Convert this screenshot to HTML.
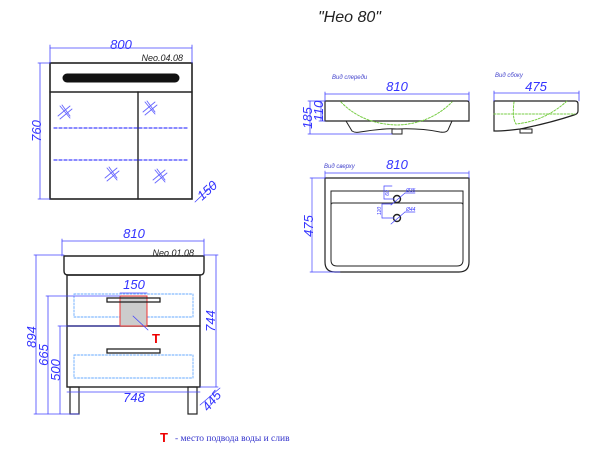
<!DOCTYPE html>
<html><head><meta charset="utf-8"><style>
html,body{margin:0;padding:0;background:#fff;}
svg{display:block;}
text{font-family:"Liberation Sans",sans-serif;}
</style></head><body>
<svg width="600" height="457" viewBox="0 0 600 457" xmlns="http://www.w3.org/2000/svg">
<g fill="none" stroke-linecap="round">
<!-- Title -->
<text x="318" y="22" font-size="16" font-style="italic" fill="#222" stroke="none">"Нео 80"</text>

<!-- Mirror cabinet -->
<rect x="50" y="63" width="142" height="136" stroke="#222" stroke-width="1.6"/>
<line x1="50" y1="92" x2="192" y2="92" stroke="#222" stroke-width="1.4"/>
<line x1="138" y1="92" x2="138" y2="199" stroke="#222" stroke-width="1.4"/>
<line x1="67" y1="78" x2="175" y2="78" stroke="#111" stroke-width="9"/>
<line x1="54" y1="128" x2="189" y2="128" stroke="#44f" stroke-width="1.2" stroke-dasharray="3,2"/>
<line x1="54" y1="160" x2="189" y2="160" stroke="#44f" stroke-width="1.2" stroke-dasharray="3,2"/>
<g stroke="#66f" stroke-width="0.9">
<path d="M58,116 L70,106 M60,119 L72,109 M60,106 L70,118 M62,105 L70,116"/>
<path d="M143,112 L155,102 M145,115 L157,105 M145,102 L155,114 M147,101 L155,112"/>
<path d="M105,178 L117,168 M107,181 L119,171 M107,168 L117,180 M109,167 L117,178"/>
<path d="M153,180 L165,170 M155,183 L167,173 M155,170 L165,182 M157,169 L165,180"/>
</g>
<g stroke="#44f" stroke-width="0.8">
<line x1="50" y1="48" x2="192" y2="48"/><line x1="50" y1="45" x2="50" y2="63"/><line x1="192" y1="45" x2="192" y2="63"/>
<line x1="40" y1="63" x2="40" y2="199"/><line x1="38" y1="63" x2="50" y2="63"/><line x1="38" y1="199" x2="50" y2="199"/>
<line x1="195" y1="202" x2="215" y2="183"/>
</g>
<g fill="#33f" stroke="none" font-size="13" font-style="italic">
<text x="121" y="49" text-anchor="middle">800</text>
<text transform="translate(41,131) rotate(-90)" text-anchor="middle">760</text>
<text transform="translate(202,201) rotate(-42)">150</text>
</g>
<text x="183" y="61" text-anchor="end" font-size="9" font-style="italic" fill="#222" stroke="none">Neo.04.08</text>

<!-- Vanity -->
<path d="M64,256 H204 V271 Q204,275 200,275 H68 Q64,275 64,271 Z" stroke="#222" stroke-width="1.4"/>
<rect x="67" y="275" width="133" height="112" stroke="#222" stroke-width="1.4"/>
<line x1="67" y1="326" x2="200" y2="326" stroke="#222" stroke-width="1.4"/>
<rect x="74" y="294" width="119" height="23" stroke="#6af" stroke-width="0.9" stroke-dasharray="2,1.5"/>
<rect x="74" y="355" width="119" height="23" stroke="#6af" stroke-width="0.9" stroke-dasharray="2,1.5"/>
<rect x="120" y="296" width="27" height="30" fill="#ccc" stroke="#e33" stroke-width="1"/>
<rect x="107" y="298" width="53" height="4" stroke="#222" stroke-width="1.3"/>
<rect x="107" y="349" width="53" height="4" stroke="#222" stroke-width="1.3"/>
<line x1="133" y1="316" x2="148" y2="330" stroke="#44f" stroke-width="0.8"/>
<rect x="70" y="387" width="9" height="27" stroke="#222" stroke-width="1.2"/>
<rect x="188" y="387" width="9" height="27" stroke="#222" stroke-width="1.2"/>
<g stroke="#44f" stroke-width="0.8">
<line x1="62" y1="241" x2="204" y2="241"/><line x1="62" y1="239" x2="62" y2="256"/><line x1="204" y1="239" x2="204" y2="256"/>
<line x1="120" y1="293" x2="147" y2="293"/>
<line x1="36" y1="255" x2="36" y2="414"/><line x1="34" y1="255" x2="64" y2="255"/><line x1="34" y1="414" x2="79" y2="414"/>
<line x1="48" y1="296" x2="48" y2="414"/><line x1="46" y1="296" x2="120" y2="296"/>
<line x1="60" y1="326" x2="60" y2="414"/><line x1="58" y1="326" x2="120" y2="326"/>
<line x1="216" y1="255" x2="216" y2="387"/><line x1="204" y1="255" x2="218" y2="255"/><line x1="200" y1="387" x2="218" y2="387"/>
<line x1="67" y1="392" x2="200" y2="392"/>
<line x1="200" y1="405" x2="220" y2="388"/>
</g>
<g fill="#33f" stroke="none" font-size="13" font-style="italic">
<text x="134" y="238" text-anchor="middle">810</text>
<text x="134" y="289" text-anchor="middle">150</text>
<text x="134" y="402" text-anchor="middle">748</text>
<text transform="translate(36,337) rotate(-90)" text-anchor="middle">894</text>
<text transform="translate(48,355) rotate(-90)" text-anchor="middle">665</text>
<text transform="translate(60,370) rotate(-90)" text-anchor="middle">500</text>
<text transform="translate(215,321) rotate(-90)" text-anchor="middle">744</text>
<text transform="translate(208,412) rotate(-50)">445</text>
</g>
<text x="194" y="256" text-anchor="end" font-size="9" font-style="italic" fill="#222" stroke="none">Neo.01.08</text>
<text x="152" y="343" font-size="13" font-weight="bold" fill="#e00" stroke="none">T</text>
<text x="160" y="442" font-size="13" font-weight="bold" fill="#e00" stroke="none">T</text>
<text x="175" y="441" font-size="9.5" fill="#33c" stroke="none" style="font-family:'Liberation Serif',serif">- место подвода воды и слив</text>

<!-- Sink front view -->
<path d="M325,101 H467 Q469,101 469,103 V121 H325 Z" stroke="#222" stroke-width="1.2"/>
<path d="M346,121 L352,131 Q355,133 360,132 Q385,128 397,129 Q420,128 440,132 Q446,133 448,130 L452,121" stroke="#222" stroke-width="1"/>
<rect x="392" y="129" width="10" height="5" stroke="#222" stroke-width="1"/>
<path d="M341,102 Q362,124 397,125 Q430,124 452,102" stroke="#7c4" stroke-width="1" stroke-dasharray="2,1.5"/>
<g stroke="#44f" stroke-width="0.8">
<line x1="325" y1="94" x2="469" y2="94"/><line x1="325" y1="92" x2="325" y2="101"/><line x1="469" y1="92" x2="469" y2="101"/>
<line x1="310" y1="101" x2="310" y2="134"/><line x1="308" y1="134" x2="392" y2="134"/>
<line x1="321" y1="101" x2="321" y2="121"/><line x1="308" y1="101" x2="325" y2="101"/><line x1="319" y1="121" x2="325" y2="121"/>
</g>
<text x="332" y="79" font-size="6" font-style="italic" fill="#44c" stroke="none">Вид спереди</text>
<g fill="#33f" stroke="none" font-size="13" font-style="italic">
<text x="397" y="91" text-anchor="middle">810</text>
<text transform="translate(312,118) rotate(-90)" text-anchor="middle">185</text>
<text transform="translate(323,111) rotate(-90)" text-anchor="middle">110</text>
</g>

<!-- Side view -->
<path d="M494,101 H575 Q578,101 578,104 V111 Q578,114 574,115 Q550,123 520,129 Q505,131 494,131 Z" stroke="#222" stroke-width="1.2"/>
<rect x="520" y="129" width="12" height="4" stroke="#222" stroke-width="1"/>
<path d="M514,102 Q512,118 516,124 Q545,121 567,101" stroke="#7c4" stroke-width="1" stroke-dasharray="2,1.5"/>
<line x1="494" y1="114" x2="575" y2="114" stroke="#7c4" stroke-width="1" stroke-dasharray="2,1.5"/>
<g stroke="#44f" stroke-width="0.8">
<line x1="494" y1="93" x2="579" y2="93"/><line x1="494" y1="91" x2="494" y2="101"/><line x1="579" y1="91" x2="579" y2="101"/>
</g>
<text x="495" y="77" font-size="6" font-style="italic" fill="#44c" stroke="none">Вид сбоку</text>
<text x="536" y="91" text-anchor="middle" font-size="13" font-style="italic" fill="#33f" stroke="none">475</text>

<!-- Top view -->
<path d="M325,178 H469 V262 Q469,272 459,272 H335 Q325,272 325,262 Z" stroke="#222" stroke-width="1.2"/>
<path d="M331,191 H463 V260 Q463,266 457,266 H337 Q331,266 331,260 Z" stroke="#222" stroke-width="1"/>
<path d="M331,205 Q331,203 333,203 H461 Q463,203 463,205" stroke="#222" stroke-width="1"/>
<circle cx="397" cy="199" r="3.5" stroke="#222" stroke-width="1.4"/>
<circle cx="397" cy="218" r="3.5" stroke="#222" stroke-width="1.4"/>
<g stroke="#44f" stroke-width="0.7">
<line x1="325" y1="173" x2="469" y2="173"/><line x1="325" y1="171" x2="325" y2="178"/><line x1="469" y1="171" x2="469" y2="178"/>
<line x1="312" y1="178" x2="312" y2="272"/><line x1="310" y1="178" x2="325" y2="178"/><line x1="310" y1="272" x2="340" y2="272"/>
<line x1="391" y1="205" x2="405" y2="193"/><line x1="405" y1="193" x2="415" y2="193"/>
<line x1="391" y1="224" x2="405" y2="212"/><line x1="405" y1="212" x2="415" y2="212"/>
<line x1="384" y1="186" x2="384" y2="199"/><line x1="384" y1="186" x2="392" y2="186"/><line x1="384" y1="199" x2="394" y2="199"/>
<line x1="382" y1="204" x2="382" y2="218"/><line x1="382" y1="218" x2="394" y2="218"/><line x1="382" y1="204" x2="392" y2="204"/>
</g>
<text x="324" y="168" font-size="6" font-style="italic" fill="#44c" stroke="none">Вид сверху</text>
<g fill="#33f" stroke="none" font-style="italic">
<text x="397" y="169" text-anchor="middle" font-size="13">810</text>
<text transform="translate(313,226) rotate(-90)" text-anchor="middle" font-size="13">475</text>
<text x="406" y="192" font-size="5">Ø35</text>
<text x="406" y="211" font-size="5">Ø44</text>
<text transform="translate(389,193) rotate(-90)" text-anchor="middle" font-size="5">60</text>
<text transform="translate(381,211) rotate(-90)" text-anchor="middle" font-size="5">120</text>
</g>
</g>
</svg>
</body></html>
